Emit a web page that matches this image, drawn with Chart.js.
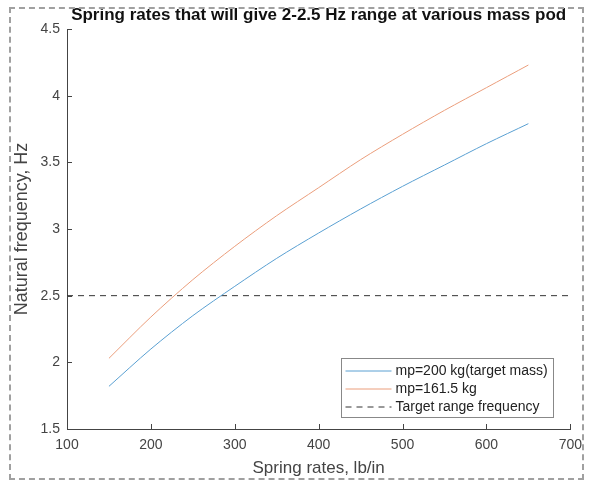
<html>
<head>
  <title>Spring rates vs natural frequency</title>
  <script src="https://cdn.jsdelivr.net/npm/chart.js"></script>
  <style>
    body { margin: 0; background: #fff; }
    #wrap { position: relative; width: 590px; height: 483px; }
    #frame {
      position: absolute; left: 9px; top: 7px; width: 575px; height: 473px;
      border: 2px dashed #a0a0a0; box-sizing: border-box; pointer-events: none;
    }
  </style>
</head>
<body>
  <div id="wrap">
    <canvas id="freqChart" width="590" height="483"></canvas>
    <div id="frame"></div>
  </div>

  <script>
    // spring rates (lb/in)
    const springRates = [150, 200, 250, 300, 350, 400, 450, 500, 550, 600, 650];
    // natural frequency for target pod mass 200 kg
    const freqMass200 = [1.82, 2.10, 2.35, 2.57, 2.78, 2.97, 3.15, 3.32, 3.48, 3.64, 3.79];
    // natural frequency for pod mass 161.5 kg
    const freqMass161 = [2.03, 2.34, 2.62, 2.87, 3.10, 3.31, 3.52, 3.71, 3.89, 4.06, 4.23];
    // target range frequency line
    const targetX = [100, 700];
    const targetY = [2.5, 2.5];

    const xTicks = [100, 200, 300, 400, 500, 600, 700];
    const yTicks = [1.5, 2, 2.5, 3, 3.5, 4, 4.5];

    const chartTitle = 'Spring rates that will give 2-2.5 Hz range at various mass pod';
    const fontFam = '"Liberation Sans", Arial, sans-serif';

    const toPoints = (xs, ys) => xs.map((x, i) => ({ x: x, y: ys[i] }));

    // MATLAB style title, inward ticks and legend box inside the axes
    const matlabBits = {
      id: 'matlabBits',
      afterDraw(chart) {
        const ctx = chart.ctx;
        const xs = chart.scales.x, ys = chart.scales.y;
        const area = chart.chartArea;
        ctx.save();

        // title centred over the axes
        ctx.fillStyle = '#111';
        ctx.font = 'bold 17px ' + fontFam;
        ctx.textAlign = 'center';
        ctx.textBaseline = 'middle';
        ctx.fillText(chartTitle, (area.left + area.right) / 2, 15);

        ctx.strokeStyle = '#444';
        ctx.lineWidth = 1;
        ctx.beginPath();
        xTicks.forEach(v => {
          const px = Math.round(xs.getPixelForValue(v)) + 0.5;
          ctx.moveTo(px, area.bottom);
          ctx.lineTo(px, area.bottom - 5);
        });
        yTicks.forEach(v => {
          const py = Math.round(ys.getPixelForValue(v)) + 0.5;
          ctx.moveTo(area.left, py);
          ctx.lineTo(area.left + 5, py);
        });
        ctx.stroke();

        // legend
        const bx = 341.5, by = 358.5, bw = 212, bh = 59;
        ctx.fillStyle = '#fff';
        ctx.fillRect(bx, by, bw, bh);
        ctx.strokeStyle = '#888';
        ctx.strokeRect(bx, by, bw, bh);
        ctx.font = '14px ' + fontFam;
        ctx.textAlign = 'left';
        ctx.textBaseline = 'middle';
        chart.data.datasets.forEach((ds, i) => {
          const ly = by + 12.5 + i * 18;
          ctx.strokeStyle = ds.borderColor;
          ctx.setLineDash(ds.borderDash || []);
          ctx.beginPath();
          ctx.moveTo(bx + 4, ly);
          ctx.lineTo(bx + 50, ly);
          ctx.stroke();
          ctx.setLineDash([]);
          ctx.fillStyle = '#222';
          ctx.fillText(ds.label, bx + 54, ly);
        });
        ctx.restore();
      }
    };

    const ctx = document.getElementById('freqChart').getContext('2d');
    const freqChart = new Chart(ctx, {
      type: 'line',
      data: {
        datasets: [{
          label: 'mp=200 kg(target mass)',
          data: toPoints(springRates, freqMass200),
          borderColor: '#5aa0d2',
          borderWidth: 1,
          pointRadius: 0,
          tension: 0.3,
          fill: false
        }, {
          label: 'mp=161.5 kg',
          data: toPoints(springRates, freqMass161),
          borderColor: '#eb9e7c',
          borderWidth: 1,
          pointRadius: 0,
          tension: 0.3,
          fill: false
        }, {
          label: 'Target range frequency',
          data: toPoints(targetX, targetY),
          borderColor: '#333',
          borderWidth: 1,
          borderDash: [6, 5],
          pointRadius: 0,
          fill: false
        }]
      },
      options: {
        responsive: false,
        animation: false,
        layout: { padding: { left: 0, right: 16, top: 29, bottom: 0 } },
        plugins: {
          legend: { display: false },
          tooltip: { enabled: false },
          title: { display: false }
        },
        scales: {
          x: {
            type: 'linear',
            min: 100,
            max: 700,
            afterBuildTicks: s => { s.ticks = xTicks.map(v => ({ value: v })); },
            afterFit: s => { s.height = 54; },
            grid: { display: false, drawTicks: false },
            border: { color: '#444', width: 1 },
            ticks: {
              color: '#444',
              padding: 8,
              maxRotation: 0,
              font: { family: fontFam, size: 14 }
            },
            title: {
              display: true,
              text: 'Spring rates, lb/in',
              color: '#444',
              padding: { top: 2, bottom: 4 },
              font: { family: fontFam, size: 17 }
            }
          },
          y: {
            type: 'linear',
            min: 1.5,
            max: 4.5,
            afterBuildTicks: s => { s.ticks = yTicks.map(v => ({ value: v })); },
            afterFit: s => { s.width = 67; },
            grid: { display: false, drawTicks: false },
            border: { color: '#444', width: 1 },
            ticks: {
              color: '#444',
              padding: 7,
              font: { family: fontFam, size: 14 },
              callback: v => String(v)
            },
            title: {
              display: true,
              text: 'Natural frequency, Hz',
              color: '#444',
              padding: { top: 11, bottom: 4 },
              font: { family: fontFam, size: 18 }
            }
          }
        }
      },
      plugins: [matlabBits]
    });
  </script>
</body>
</html>
